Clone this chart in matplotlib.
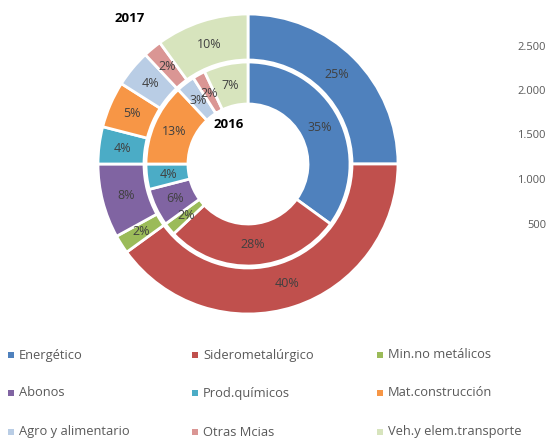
import matplotlib
matplotlib.use("Agg")
import matplotlib.pyplot as plt
from matplotlib.patches import Rectangle

categories = ["Energético", "Siderometalúrgico", "Min.no metálicos",
              "Abonos", "Prod.químicos", "Mat.construcción",
              "Agro y alimentario", "Otras Mcias", "Veh.y elem.transporte"]
values_2017 = [25, 40, 2, 8, 4, 5, 4, 2, 10]
values_2016 = [35, 28, 2, 6, 4, 13, 3, 2, 7]
colors = ["#4F81BD", "#C0504D", "#9BBB59", "#8064A2", "#4BACC6",
          "#F79646", "#B9CDE5", "#DA9694", "#D7E4BD"]
axis_ticks = ["2.500", "2.000", "1.500", "1.000", "500"]

plt.rcParams['font.family'] = ['Open Sans', 'DejaVu Sans']

W, H = 546, 441
fig = plt.figure(figsize=(W / 100, H / 100), dpi=100)
ax = fig.add_axes([0, 0, 1, 1])

cx, cy = 248, H - 164
R_out, R_in, R_hole = 150, 102, 60

ax.pie(values_2017, colors=colors, radius=R_out, center=(cx, cy),
       startangle=90, counterclock=False,
       wedgeprops=dict(width=R_out - R_in - 2, edgecolor='white', linewidth=2),
       autopct='%1.0f%%', pctdistance=0.84,
       textprops=dict(color='#404040', fontsize=9), frame=True)
ax.pie(values_2016, colors=colors, radius=R_in, center=(cx, cy),
       startangle=90, counterclock=False,
       wedgeprops=dict(width=R_in - R_hole, edgecolor='white', linewidth=2),
       autopct='%1.0f%%', pctdistance=0.79,
       textprops=dict(color='#404040', fontsize=9), frame=True)
ax.set_xlim(0, W)
ax.set_ylim(0, H)
ax.set_aspect('equal')
ax.axis('off')

ax.text(130, H - 18, "2017", fontsize=9.5, fontweight='bold', color='black',
        ha='center', va='center')
ax.text(229, H - 125, "2016", fontsize=9.5, fontweight='bold', color='black',
        ha='center', va='center')

# leftover axis tick labels on the right
for i, t in enumerate(axis_ticks):
    ax.text(546, H - (47 + 44.5 * i), t, fontsize=8, color='#595959',
            ha='right', va='center')

# legend, row-major 3 columns
col_x = [11, 195, 380]
row_y = [355, 393, 432]
for i, (name, c) in enumerate(zip(categories, colors)):
    x = col_x[i % 3]
    y = H - row_y[i // 3]
    ax.add_patch(Rectangle((x - 3, y - 3), 6, 6, facecolor=c, edgecolor='none'))
    ax.text(x + 8, y, name, fontsize=9.3, color='#595959', ha='left', va='center')

fig.savefig("out.png", dpi=100)
